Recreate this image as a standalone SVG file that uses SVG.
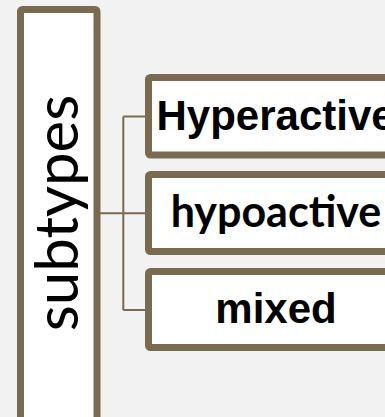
<svg xmlns="http://www.w3.org/2000/svg" width="385" height="417" viewBox="0 0 385 417">
<style>
.box{fill:#ffffff;stroke:#7a6a50;stroke-width:7}
.conn{fill:none;stroke:#7a6a50;stroke-width:2}
.arial{font-family:"Liberation Sans",Arial,sans-serif;font-weight:bold;font-size:42px;fill:#000}
.gill{font-family:Lato,"Open Sans",sans-serif;font-weight:bold;font-size:43px;fill:#000}
</style>
<rect width="385" height="417" fill="#f2f2f2"/>
<g id="connectors">
<path class="conn" d="M100,213.3 H123.3 M123.3,116.5 V310 M123.3,116.5 H145 M123.3,213.3 H145 M123.3,310 H145"/>
</g>
<g id="subtypes">
<rect class="box" x="20.5" y="9.5" width="76.5" height="420" rx="2"/>
<text transform="translate(78,213) rotate(-90)" text-anchor="middle" font-family="Lato,'Open Sans',sans-serif" font-size="60" fill="#000">subtypes</text>
</g>
<g id="hyperactive">
<rect class="box" x="148.5" y="77.5" width="270" height="77.5" rx="2"/>
<text class="arial" x="156.5" y="130">Hyperactive</text>
</g>
<g id="hypoactive">
<rect class="box" x="148.5" y="174.5" width="270" height="77" rx="2"/>
<text class="gill" x="276" y="226.7" text-anchor="middle">hypoactive</text>
</g>
<g id="mixed">
<rect class="box" x="148.5" y="271.5" width="270" height="76" rx="2"/>
<text class="arial" x="276" y="323.3" text-anchor="middle">mixed</text>
</g>
</svg>
